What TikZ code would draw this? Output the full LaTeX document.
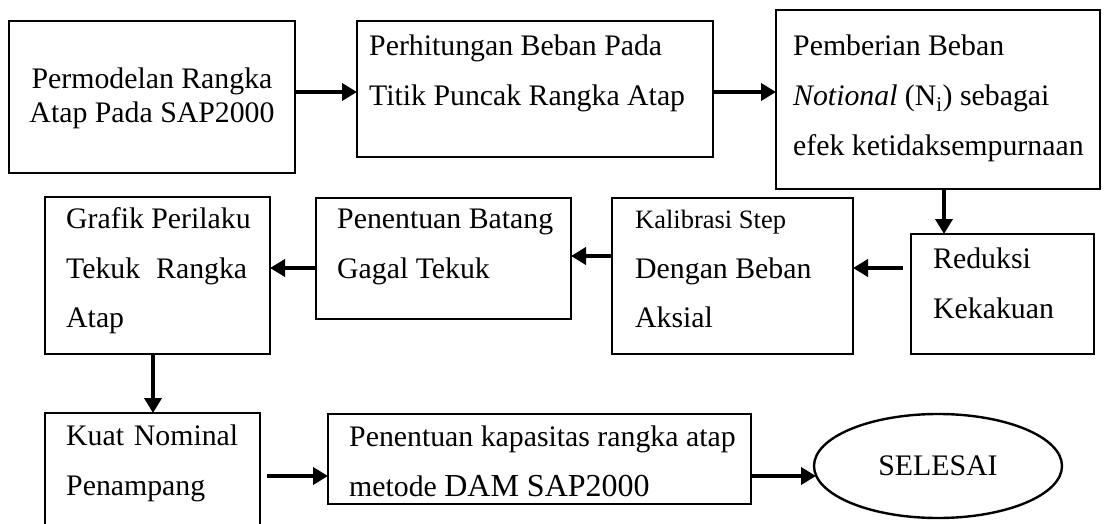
\documentclass[tikz,border=0pt]{standalone}
\usepackage{fontspec}
\setmainfont{Liberation Serif}
\usetikzlibrary{arrows.meta,shapes.geometric,calc}
\begin{document}
\begin{tikzpicture}[x=1pt,y=-1pt,
  boxn/.style={draw,line width=2.4pt,rectangle,inner sep=0pt,outer sep=0pt},
  ovaln/.style={draw,line width=2.4pt,ellipse,inner sep=0pt,outer sep=0pt,font=\fontsize{29.8}{36}\selectfont},
  txt/.style={anchor=base west,inner sep=0pt,font=\fontsize{29.8}{50}\selectfont},
  txtc/.style={anchor=base,inner sep=0pt,font=\fontsize{29.8}{34}\selectfont},
  arr/.style={line width=4pt,-{Triangle[length=15pt,width=17pt]}},
]
\useasboundingbox (0,0) rectangle (1106,524);
\clip (0,0) rectangle (1106,524);
\fill[white] (0,0) rectangle (1106,524);

% boxes
\node[boxn,minimum width=286pt,minimum height=152pt] (b1) at (152,97) {};
\node[boxn,minimum width=356pt,minimum height=136pt] (b2) at (535,89) {};
\node[boxn,minimum width=324pt,minimum height=179pt] (b3) at (938,99.5) {};
\node[boxn,minimum width=183pt,minimum height=120pt] (red) at (1002.5,294) {};
\node[boxn,minimum width=241pt,minimum height=156pt] (kal) at (732.5,276) {};
\node[boxn,minimum width=255pt,minimum height=121pt] (pen) at (443.5,258.5) {};
\node[boxn,minimum width=225pt,minimum height=157pt] (gra) at (157.5,275.5) {};
\node[boxn,minimum width=215pt,minimum height=127pt] (kua) at (152.5,476.5) {};
\node[boxn,minimum width=423pt,minimum height=90pt] (kap) at (539.5,459) {};
\node[ovaln,minimum width=248pt,minimum height=104pt] (sel) at (938,466) {SELESAI};

% texts
\node[txtc] (t1) at (152,89) {\begin{tabular}[t]{@{}c@{}}Permodelan Rangka\\Atap Pada SAP2000\end{tabular}};
\node[txt] (t2) at (369,56) {\begin{tabular}[t]{@{}l@{}}Perhitungan Beban Pada\\Titik Puncak Rangka Atap\end{tabular}};
\node[txt] (t3) at (793,56) {\begin{tabular}[t]{@{}l@{}}Pemberian Beban\\\textit{Notional} (N\textsubscript{i}) sebagai\\efek ketidaksempurnaan\end{tabular}};
\node[txt] (t4) at (933,268) {\begin{tabular}[t]{@{}l@{}}Reduksi\\Kekakuan\end{tabular}};
\node[txt] (t5) at (635,228) {\begin{tabular}[t]{@{}l@{}}{\fontsize{26.5}{50}\selectfont Kalibrasi Step}\\Dengan Beban\\Aksial\end{tabular}};
\node[txt] (t6) at (337,228) {\begin{tabular}[t]{@{}l@{}}Penentuan Batang\\Gagal Tekuk\end{tabular}};
\node[txt] (t7) at (66,228) {\begin{tabular}[t]{@{}l@{}}Grafik Perilaku\\\makebox[181pt][s]{Tekuk Rangka}\\Atap\end{tabular}};
\node[txt] (t8) at (66,445) {\begin{tabular}[t]{@{}l@{}}\makebox[172pt][s]{Kuat Nominal}\\Penampang\end{tabular}};
\node[txt] (t9) at (349,446) {\begin{tabular}[t]{@{}l@{}}Penentuan kapasitas rangka atap\\metode {\fontsize{32}{50}\selectfont DAM SAP2000}\end{tabular}};

% guide coordinates
\coordinate (r1) at (0,92);
\coordinate (r2) at (0,268);
\coordinate (r3) at (0,256);
\coordinate (r4) at (0,476);
\coordinate (c1) at (944,0);
\coordinate (c2) at (153,0);

% connectors
\draw[arr] (b1.east |- r1) -- (b2.west |- r1);
\draw[arr] (b2.east |- r1) -- (b3.west |- r1);
\draw[arr] (b3.south -| c1) -- (red.north -| c1);
\draw[arr] ($(red.west |- r2)+(-8,0)$) -- (kal.east |- r2);
\draw[arr] (kal.west |- r3) -- (pen.east |- r3);
\draw[arr] (pen.west |- r2) -- (gra.east |- r2);
\draw[arr] (gra.south -| c2) -- (kua.north -| c2);
\draw[arr] ($(kua.east |- r4)+(7,0)$) -- (kap.west |- r4);
\draw[arr] (kap.east |- r4) -- ($(sel.west |- r4)+(2,0)$);
\end{tikzpicture}
\end{document}
